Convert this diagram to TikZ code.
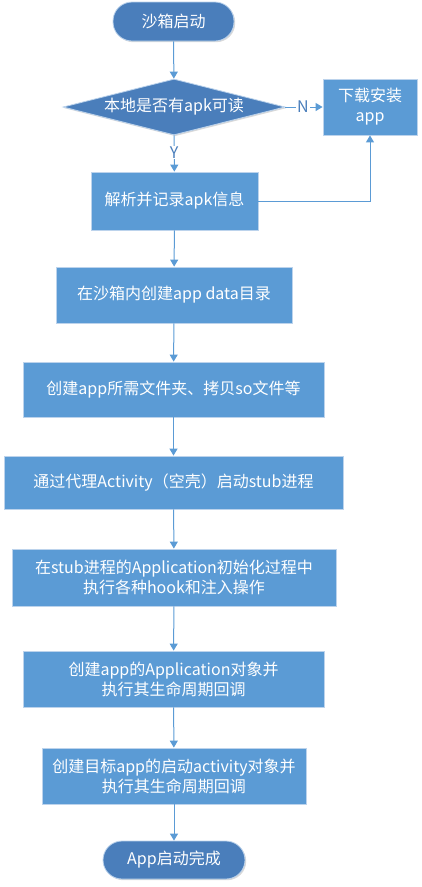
\documentclass[tikz,border=0pt]{standalone}
\usepackage{fontspec}
\setmainfont{Noto Sans CJK SC}
\usetikzlibrary{shapes.geometric,arrows.meta,shadows}
\definecolor{boxblue}{HTML}{5B9BD5}
\definecolor{darkblue}{HTML}{4A7EBB}
\definecolor{lineblue}{HTML}{5B9BD5}
\definecolor{edgeblue}{HTML}{BCD3EC}
\tikzset{
  base/.style={text=white, font=\fontsize{16pt}{20pt}\selectfont, align=center, inner sep=0pt,
    draw=edgeblue, line width=0.8pt,
    drop shadow={shadow xshift=1.2pt, shadow yshift=-1.2pt, opacity=0.25, fill=black!60}},
  stepbox/.style={base, rectangle, fill=boxblue},
  term/.style={base, rectangle, rounded corners=19pt, fill=darkblue},
  decide/.style={base, diamond, fill=darkblue, aspect=3.9},
  conn/.style={draw=lineblue, line width=1pt, -{Triangle[width=8pt,length=7pt]}},
  lbl/.style={fill=white, text=darkblue, font=\fontsize{16pt}{18pt}\selectfont, inner sep=1pt},
  x=1pt, y=1pt
}
\begin{document}
\begin{tikzpicture}
\useasboundingbox (0,0) rectangle (422,-887);
\node[term, minimum width=121pt, minimum height=39pt] (start) at (173.5,-21.5) {沙箱启动};
\node[decide, minimum width=222pt, minimum height=56pt] (dec) at (174,-107) {本地是否有apk可读};
\node[stepbox, minimum width=94pt, minimum height=56pt] (dl) at (370,-107) {下载安装\\app};
\node[stepbox, minimum width=167pt, minimum height=58pt] (parse) at (174.5,-201) {解析并记录apk信息};
\node[stepbox, minimum width=236pt, minimum height=56pt] (data) at (174,-295) {在沙箱内创建app data目录};
\node[stepbox, minimum width=301pt, minimum height=55pt] (folder) at (173.5,-389.5) {创建app所需文件夹、拷贝so文件等};
\node[stepbox, minimum width=339pt, minimum height=53pt] (stub) at (173.5,-482.5) {通过代理Activity（空壳）启动stub进程};
\node[stepbox, minimum width=324pt, minimum height=57pt] (hook) at (174,-577.5) {在stub进程的Application初始化过程中\\执行各种hook和注入操作};
\node[stepbox, minimum width=301pt, minimum height=56pt] (appobj) at (173.5,-679) {创建app的Application对象并\\执行其生命周期回调};
\node[stepbox, minimum width=264pt, minimum height=56pt] (act) at (174,-776) {创建目标app的启动activity对象并\\执行其生命周期回调};
\node[term, minimum width=142pt, minimum height=38pt] (end) at (174,-860) {App启动完成};

\coordinate (turn) at (dl.south |- parse.east);
\draw[conn] (start) -- (dec);
\draw[conn] (dec) -- node[lbl, pos=0.47] (ylab) {Y} (parse);
\draw[conn] (dec) -- node[lbl, pos=0.47] (nlab) {N} (dl);
\draw[conn] (parse.east) -- (turn) -- (dl.south);
\draw[conn] (parse) -- (data);
\draw[conn] (data) -- (folder);
\draw[conn] (folder) -- (stub);
\draw[conn] (stub) -- (hook);
\draw[conn] (hook) -- (appobj);
\draw[conn] (appobj) -- (act);
\draw[conn] (act) -- (end);
\end{tikzpicture}
\end{document}
